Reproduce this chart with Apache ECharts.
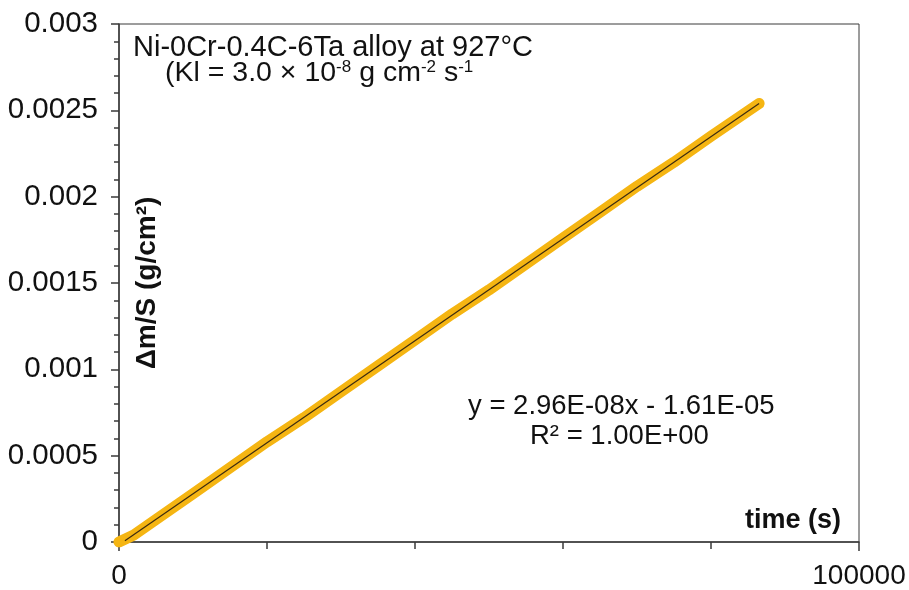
<!DOCTYPE html>
<html><head><meta charset="utf-8">
<script src="https://cdn.jsdelivr.net/npm/echarts@6/dist/echarts.min.js"></script>
<style>html,body{margin:0;padding:0;background:#fff}#c{width:909px;height:590px}</style>
</head><body><div id="c"></div>
<script>
const timeS = [0, 2000, 5000, 10000, 15000, 20000, 25000, 30000, 35000, 40000, 45000, 50000, 55000, 60000, 65000, 70000, 75000, 80000, 86500];
const massGain = [0, 0.00004, 0.00013, 0.00028, 0.00043, 0.00058, 0.00072, 0.00087, 0.00102, 0.00117, 0.00132, 0.00146, 0.00161, 0.00176, 0.00191, 0.00206, 0.0022, 0.00235, 0.00254];
const trendX = [800, 86500];
const trendY = [0.0000076, 0.00254];
const yTicks = [0, 0.0005, 0.001, 0.0015, 0.002, 0.0025, 0.003];
const xTicks = [0, 100000];

const font = '"Liberation Sans", Arial, sans-serif';
const chart = echarts.init(document.getElementById('c'));
chart.setOption({
  animation: false,
  backgroundColor: '#fff',
  grid: {left: 119, right: 50, top: 24, bottom: 47, show: true, borderColor: '#3a3a3a', borderWidth: 1},
  xAxis: {
    type: 'value', min: xTicks[0], max: xTicks[xTicks.length-1], interval: 100000,
    axisLine: {lineStyle: {color: '#3a3a3a', width: 1.5}},
    axisTick: {length: 9, lineStyle: {color: '#3a3a3a', width: 1.5}},
    minorTick: {show: true, splitNumber: 5, length: 7, lineStyle: {color: '#3a3a3a', width: 1.5}},
    splitLine: {show: false},
    axisLabel: {fontFamily: font, fontSize: 28, color: '#111', margin: 20, formatter: v => String(v)}
  },
  yAxis: {
    type: 'value', min: yTicks[0], max: yTicks[yTicks.length-1], interval: 0.0005,
    name: 'Δm/S (g/cm²)', nameLocation: 'middle', nameRotate: 90, nameGap: -42,
    nameTextStyle: {fontFamily: font, fontSize: 28, fontWeight: 'bold', color: '#111'},
    axisLine: {lineStyle: {color: '#3a3a3a', width: 1.5}},
    axisTick: {length: 8, lineStyle: {color: '#3a3a3a', width: 1.5}},
    minorTick: {show: true, splitNumber: 5, length: 5, lineStyle: {color: '#3a3a3a', width: 1.5}},
    splitLine: {show: false},
    axisLabel: {fontFamily: font, fontSize: 29.5, color: '#111', margin: 21,
      formatter: v => String(+v.toFixed(4))}
  },
  series: [
    {type: 'line', data: timeS.map((x, i) => [x, massGain[i]]), symbol: 'none',
     lineStyle: {color: '#F5B512', width: 11, cap: 'round', join: 'round'}, z: 2},
    {type: 'line', data: trendX.map((x, i) => [x, trendY[i]]), symbol: 'none',
     lineStyle: {color: '#3b2a10', width: 1.2}, z: 3}
  ],
  graphic: [
    {type: 'text', left: 133, top: 33, style: {text: 'Ni-0Cr-0.4C-6Ta alloy at 927°C', font: '29px ' + font, fill: '#111'}},
    {type: 'text', left: 165, top: 59, style: {
      text: '(Kl = 3.0 × 10{s|-8} g cm{s|-2} s{s|-1}',
      font: '28.5px ' + font, fill: '#111',
      rich: {s: {fontSize: 17, fontFamily: font, verticalAlign: 'top', padding: [0,0,12,0], fill: '#111'}}
    }},
    {type: 'text', left: 468, top: 392, style: {text: 'y = 2.96E-08x - 1.61E-05', font: '27.5px ' + font, fill: '#111'}},
    {type: 'text', left: 530, top: 422, style: {text: 'R² = 1.00E+00', font: '27.5px ' + font, fill: '#111'}},
    {type: 'text', left: 745, top: 507, style: {text: 'time (s)', font: 'bold 27px ' + font, fill: '#111'}}
  ]
});
</script></body></html>
